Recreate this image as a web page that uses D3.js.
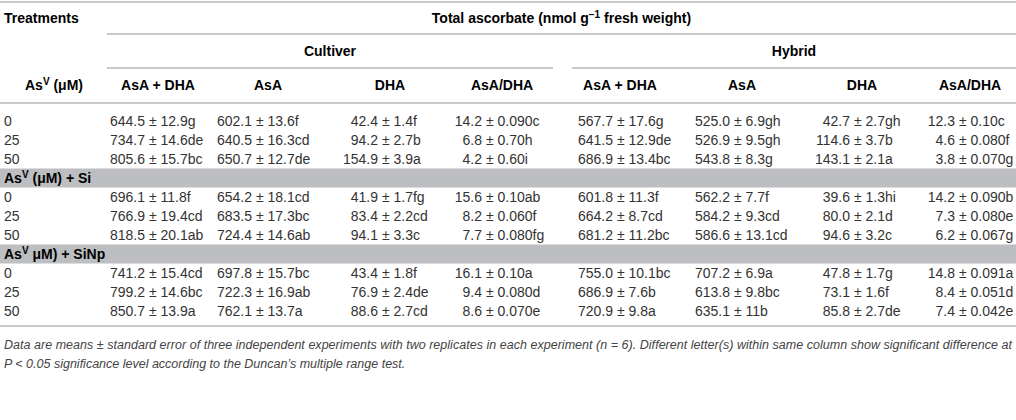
<!DOCTYPE html>
<html>
<head>
<meta charset="utf-8">
<script src="https://cdn.jsdelivr.net/npm/d3@7"></script>
<style>
  body { margin: 0; background: #fff; }
  svg { font-family: "Liberation Sans", Arial, Helvetica, sans-serif; }
  .hdr { font-weight: bold; fill: #000; font-size: 14px; }
  .cell { fill: #333; font-size: 14px; }
  .note { fill: #444; font-size: 12.5px; font-style: italic; }
</style>
</head>
<body>
<div id="table"></div>
<script>
// Table 1: total ascorbate, cultiver vs hybrid

const doses = ["0", "25", "50"];
const groupLabels = ["(\u03bcM) + Si", "\u03bcM) + SiNp"];
const columns = ["AsA + DHA", "AsA", "DHA", "AsA/DHA"];
const cultivars = ["Cultiver", "Hybrid"];

// rows: AsV 0,25,50 | AsV+Si 0,25,50 | AsV+SiNp 0,25,50
const cultMean = [
    ["644.5", "602.1", "42.4", "14.2"],
    ["734.7", "640.5", "94.2", "6.8"],
    ["805.6", "650.7", "154.9", "4.2"],
    ["696.1", "654.2", "41.9", "15.6"],
    ["766.9", "683.5", "83.4", "8.2"],
    ["818.5", "724.4", "94.1", "7.7"],
    ["741.2", "697.8", "43.4", "16.1"],
    ["799.2", "722.3", "76.9", "9.4"],
    ["850.7", "762.1", "88.6", "8.6"]
];
const cultErr = [
    ["12.9g", "13.6f", "1.4f", "0.090c"],
    ["14.6de", "16.3cd", "2.7b", "0.70h"],
    ["15.7bc", "12.7de", "3.9a", "0.60i"],
    ["11.8f", "18.1cd", "1.7fg", "0.10ab"],
    ["19.4cd", "17.3bc", "2.2cd", "0.060f"],
    ["20.1ab", "14.6ab", "3.3c", "0.080fg"],
    ["15.4cd", "15.7bc", "1.8f", "0.10a"],
    ["14.6bc", "16.9ab", "2.4de", "0.080d"],
    ["13.9a", "13.7a", "2.7cd", "0.070e"]
];
const hybMean = [
    ["567.7", "525.0", "42.7", "12.3"],
    ["641.5", "526.9", "114.6", "4.6"],
    ["686.9", "543.8", "143.1", "3.8"],
    ["601.8", "562.2", "39.6", "14.2"],
    ["664.2", "584.2", "80.0", "7.3"],
    ["681.2", "586.6", "94.6", "6.2"],
    ["755.0", "707.2", "47.8", "14.8"],
    ["686.9", "613.8", "73.1", "8.4"],
    ["720.9", "635.1", "85.8", "7.4"]
];
const hybErr = [
    ["17.6g", "6.9gh", "2.7gh", "0.10c"],
    ["12.9de", "9.5gh", "3.7b", "0.080f"],
    ["13.4bc", "8.3g", "2.1a", "0.070g"],
    ["11.3f", "7.7f", "1.3hi", "0.090b"],
    ["8.7cd", "9.3cd", "2.1d", "0.080e"],
    ["11.2bc", "13.1cd", "3.2c", "0.067g"],
    ["10.1bc", "6.9a", "1.7g", "0.091a"],
    ["7.6b", "9.8bc", "1.6f", "0.051d"],
    ["9.8a", "11b", "2.7de", "0.042e"]
];

const noteLines = [
    "Data are means \u00b1 standard error of three independent experiments with two replicates in each experiment (n = 6). Different letter(s) within same column show significant difference at",
    "P < 0.05 significance level according to the Duncan\u2019s multiple range test."
];

const width = 1016, height = 420;
const lineColor = "#c9c9c9", bandColor = "#bdbec1";

const svg = d3.select("#table").append("svg")
    .attr("width", width)
    .attr("height", height);

// row slots: data rows and the two band rows share one linear scale
const yScale = d3.scaleLinear().domain([0, 1]).range([121, 140]);
const slotOf = i => i + Math.floor(i / 3);

// column anchors (right edge of the mean) and header centres
const colKeys = d3.range(8);
const anchorX = d3.scaleOrdinal().domain(colKeys)
    .range([145, 252, 378, 482, 613, 730, 850, 955]);
const headX = d3.scaleOrdinal().domain(colKeys)
    .range([158, 268, 390, 502, 620, 742, 862, 970]);
const groupSpan = [[107, 553], [572, 1016]];

// rules
const hLine = (x1, x2, y) => svg.append("line")
    .attr("x1", x1).attr("x2", x2).attr("y1", y).attr("y2", y)
    .attr("stroke", lineColor).attr("stroke-width", 2);
hLine(0, width, 2);
hLine(107, width, 34);
groupSpan.forEach(s => hLine(s[0], s[1], 68));
hLine(0, width, 103);
hLine(0, width, 326);

// grey bands
groupLabels.forEach((g, k) => {
    const yc = yScale(4 * (k + 1) - 1);
    svg.append("rect")
        .attr("x", 0).attr("y", yc - 9.5)
        .attr("width", width).attr("height", 19)
        .attr("fill", bandColor);
    const t = svg.append("text").attr("class", "hdr")
        .attr("x", 4).attr("y", yc).attr("dy", "0.35em");
    t.append("tspan").text("As");
    t.append("tspan").attr("dy", -5).attr("font-size", 10).text("V");
    t.append("tspan").attr("dy", 5).text(" " + g);
});

// header texts
svg.append("text").attr("class", "hdr")
    .attr("x", 4).attr("y", 18).attr("dy", "0.35em")
    .text("Treatments");

const title = svg.append("text").attr("class", "hdr")
    .attr("x", (107 + width) / 2).attr("y", 18).attr("dy", "0.35em")
    .attr("text-anchor", "middle");
title.append("tspan").text("Total ascorbate (nmol g");
title.append("tspan").attr("dy", -5).attr("font-size", 10).text("\u22121");
title.append("tspan").attr("dy", 5).text(" fresh weight)");

cultivars.forEach((c, k) => {
    svg.append("text").attr("class", "hdr")
        .attr("x", (groupSpan[k][0] + groupSpan[k][1]) / 2).attr("y", 51)
        .attr("dy", "0.35em").attr("text-anchor", "middle")
        .text(c);
});

const asv = svg.append("text").attr("class", "hdr")
    .attr("x", 54).attr("y", 85).attr("dy", "0.35em")
    .attr("text-anchor", "middle");
asv.append("tspan").text("As");
asv.append("tspan").attr("dy", -5).attr("font-size", 10).text("V");
asv.append("tspan").attr("dy", 5).text(" (\u03bcM)");

colKeys.forEach(j => {
    svg.append("text").attr("class", "hdr")
        .attr("x", headX(j)).attr("y", 85).attr("dy", "0.35em")
        .attr("text-anchor", "middle")
        .text(columns[j % 4]);
});

// body cells
const rows = d3.range(9).map(i => ({
    dose: doses[i % 3],
    mean: cultMean[i].concat(hybMean[i]),
    err: cultErr[i].concat(hybErr[i]),
    y: yScale(slotOf(i))
}));

const rowG = svg.selectAll(".row")
    .data(rows)
    .join("g")
    .attr("class", "row")
    .attr("transform", d => `translate(0, ${d.y})`);

rowG.append("text").attr("class", "cell")
    .attr("x", 4).attr("dy", "0.35em")
    .text(d => d.dose);

colKeys.forEach(j => {
    rowG.append("text").attr("class", "cell")
        .attr("x", anchorX(j)).attr("dy", "0.35em")
        .attr("text-anchor", "end")
        .text(d => d.mean[j]);
    rowG.append("text").attr("class", "cell")
        .attr("x", anchorX(j)).attr("dy", "0.35em")
        .attr("xml:space", "preserve")
        .text(d => " \u00b1 " + d.err[j]);
});

// footnote
noteLines.forEach((s, i) => {
    const t = svg.append("text").attr("class", "note")
        .attr("x", 4).attr("y", 345 + i * 19).attr("dy", "0.35em")
        .text(s);
    if (i === 0) t.attr("textLength", 1008).attr("lengthAdjust", "spacing");
});
</script>
</body>
</html>
